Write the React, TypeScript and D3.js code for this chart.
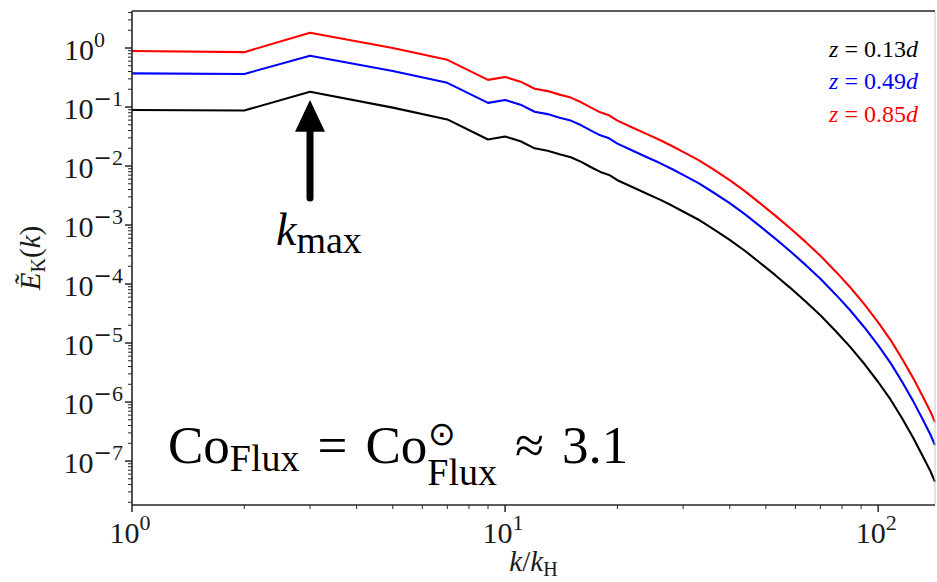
import * as d3 from 'd3';

// wavenumbers k/k_H where the spectra are read
const kValues = [1, 2, 3, 5, 7, 9, 10, 11, 12, 13, 14, 15, 16, 17, 18, 19, 20, 22, 24, 26, 28, 30, 33, 36, 40, 44, 48, 53, 58, 64, 70, 77, 84, 92, 100, 108, 116, 124, 132, 138, 142];

// log10 of the kinetic energy spectrum, one list per height
const logE013 = [-1.05, -1.06, -0.74, -1.01, -1.21, -1.55, -1.5, -1.58, -1.7, -1.74, -1.8, -1.85, -1.93, -2.02, -2.1, -2.15, -2.24, -2.36, -2.47, -2.57, -2.67, -2.77, -2.91, -3.06, -3.25, -3.44, -3.63, -3.85, -4.06, -4.3, -4.53, -4.8, -5.06, -5.36, -5.66, -5.96, -6.28, -6.6, -6.93, -7.17, -7.35];
const logE049 = [-0.43, -0.44, -0.13, -0.39, -0.59, -0.93, -0.88, -0.96, -1.08, -1.12, -1.18, -1.23, -1.31, -1.4, -1.48, -1.53, -1.62, -1.74, -1.85, -1.95, -2.05, -2.15, -2.29, -2.44, -2.63, -2.82, -3.01, -3.23, -3.44, -3.68, -3.91, -4.18, -4.44, -4.74, -5.04, -5.34, -5.66, -5.98, -6.31, -6.55, -6.73];
const logE085 = [-0.05, -0.07, 0.26, 0.0, -0.2, -0.54, -0.49, -0.57, -0.69, -0.73, -0.79, -0.84, -0.92, -1.01, -1.09, -1.14, -1.23, -1.35, -1.46, -1.56, -1.66, -1.76, -1.9, -2.05, -2.24, -2.43, -2.62, -2.84, -3.05, -3.29, -3.52, -3.79, -4.05, -4.35, -4.65, -4.95, -5.27, -5.59, -5.92, -6.16, -6.34];

const heights = ['0.13', '0.49', '0.85'];
const yTickExponents = [0, -1, -2, -3, -4, -5, -6, -7];
const xTickExponents = [0, 1, 2];

const W = 937;
const H = 582;
const FONT = '"Liberation Serif", "DejaVu Serif", serif';
const WIDE = '"DejaVu Serif", serif';

const x = d3.scaleLog().domain([1, 142]).range([132, 935]);
const y = d3.scaleLog().domain([1.8e-8, 4.24]).range([505, 11]);

const line = d3
  .line<[number, number]>()
  .x((d) => x(d[0]))
  .y((d) => y(Math.pow(10, d[1])));

const series = [
  { label: heights[0], values: logE013, color: '#000000' },
  { label: heights[1], values: logE049, color: '#0000ff' },
  { label: heights[2], values: logE085, color: '#ff0000' },
];

function minorTicks(domain: number[]) {
  const out: number[] = [];
  const lo = Math.floor(Math.log10(domain[0]));
  const hi = Math.ceil(Math.log10(domain[1]));
  for (let e = lo; e <= hi; e++) {
    for (let m = 2; m <= 9; m++) {
      const v = m * Math.pow(10, e);
      if (v >= domain[0] && v <= domain[1]) out.push(v);
    }
  }
  return out;
}

// "10" with a superscript exponent, minus sign drawn wide like TeX's
function Pow10({ e }: { e: number }) {
  return (
    <>
      10
      <tspan dy={-13} fontSize={22}>
        {e < 0 ? <tspan fontFamily={WIDE}>{'\u2212'}</tspan> : null}
        {String(Math.abs(e))}
      </tspan>
    </>
  );
}

export default function App() {
  const [x0, x1] = x.range();
  const [yb, yt] = y.range();
  const axisColor = '#262626';
  const ink = '#1a1a1a';

  return (
    <svg
      width={W}
      height={H}
      viewBox={`0 0 ${W} ${H}`}
      style={{ position: 'absolute', left: 0, top: 0, background: '#fff' }}
      fontFamily={FONT}
    >
      <rect x={0} y={0} width={W} height={H} fill="#fff" />

      {/* spectra */}
      {series.map((s) => (
        <path
          key={s.label}
          d={line(kValues.map((k, i) => [k, s.values[i]]) as [number, number][]) || ''}
          fill="none"
          stroke={s.color}
          strokeWidth={2.1}
          strokeLinejoin="round"
        />
      ))}

      {/* spines */}
      <line x1={x1} x2={x1} y1={yt} y2={yb} stroke="#c8c8c8" strokeWidth={1} />
      <line x1={x0} x2={x1} y1={yt} y2={yt} stroke={axisColor} strokeWidth={1.6} />
      <line x1={x0} x2={x0} y1={yt} y2={yb} stroke={axisColor} strokeWidth={1.6} />
      <line x1={x0} x2={x1} y1={yb} y2={yb} stroke={axisColor} strokeWidth={1.6} />

      {/* y ticks */}
      {minorTicks(y.domain()).map((v) => (
        <line key={'ym' + v} x1={x0 - 4} x2={x0} y1={y(v)} y2={y(v)} stroke={axisColor} strokeWidth={1} />
      ))}
      {yTickExponents.map((e) => (
        <g key={'y' + e}>
          <line x1={x0 - 7} x2={x0} y1={y(Math.pow(10, e))} y2={y(Math.pow(10, e))} stroke={axisColor} strokeWidth={1.5} />
          <text
            x={e < 0 ? x0 - 9 : x0 - 27}
            y={y(Math.pow(10, e)) + 12}
            textAnchor="end"
            fontSize={30}
            fill={ink}
          >
            <Pow10 e={e} />
          </text>
        </g>
      ))}

      {/* x ticks */}
      {minorTicks(x.domain()).map((v) => (
        <line key={'xm' + v} x1={x(v)} x2={x(v)} y1={yb} y2={yb + 4} stroke={axisColor} strokeWidth={1} />
      ))}
      {xTickExponents.map((e) => (
        <g key={'x' + e}>
          <line x1={x(Math.pow(10, e))} x2={x(Math.pow(10, e))} y1={yb} y2={yb + 7} stroke={axisColor} strokeWidth={1.5} />
          <text x={x(Math.pow(10, e)) - 2} y={yb + 38} textAnchor="middle" fontSize={30} fill={ink}>
            <Pow10 e={e} />
          </text>
        </g>
      ))}

      {/* axis labels */}
      <text x={(x0 + x1) / 2} y={571} textAnchor="middle" fontSize={29} fill={ink}>
        <tspan fontStyle="italic">k</tspan>/<tspan fontStyle="italic">k</tspan>
        <tspan fontSize={20} dy={5}>H</tspan>
      </text>
      <text
        transform={`translate(40,${(yt + yb) / 2}) rotate(-90)`}
        textAnchor="middle"
        fontSize={29}
        fill={ink}
      >
        <tspan fontStyle="italic">{'\u1EBC'}</tspan>
        <tspan fontSize={20} dy={5}>K</tspan>
        <tspan dy={-5}>(</tspan>
        <tspan fontStyle="italic">k</tspan>)
      </text>

      {/* legend */}
      {series.map((s, i) => (
        <text key={'lg' + s.label} x={918} y={56.5 + i * 32.5} textAnchor="end" fontSize={24} fill={s.color}>
          <tspan fontStyle="italic">z</tspan> = {s.label}
          <tspan fontStyle="italic">d</tspan>
        </text>
      ))}

      {/* k_max arrow */}
      <line x1={x(3)} x2={x(3)} y1={y(Math.pow(10, -2.54))} y2={y(Math.pow(10, -1.25))} stroke="#000" strokeWidth={7} strokeLinecap="round" />
      <path
        d={`M${x(3)},${y(Math.pow(10, -0.88))} L${x(3) - 15},${y(Math.pow(10, -1.42))} L${x(3) + 15},${y(Math.pow(10, -1.42))} Z`}
        fill="#000"
      />
      <text x={276} y={245} fontSize={46} fill="#000">
        <tspan fontStyle="italic">k</tspan>
        <tspan fontSize={38} dy={8}>max</tspan>
      </text>

      {/* Coriolis number */}
      <text x={168} y={463} fontSize={53} fill="#000">
        Co
        <tspan fontSize={38} dy={8}>Flux</tspan>
        <tspan dx={18} dy={-8}>=</tspan>
        <tspan dx={18}>Co</tspan>
        <tspan fontSize={38} dy={22}>Flux</tspan>
        <tspan dx={18} dy={-22}>{'\u2248'}</tspan>
        <tspan dx={18}>3.1</tspan>
      </text>
      <text x={428} y={445} fontSize={33} fontFamily='"DejaVu Sans", sans-serif' fill="#000">
        {'\u2299'}
      </text>
    </svg>
  );
}
